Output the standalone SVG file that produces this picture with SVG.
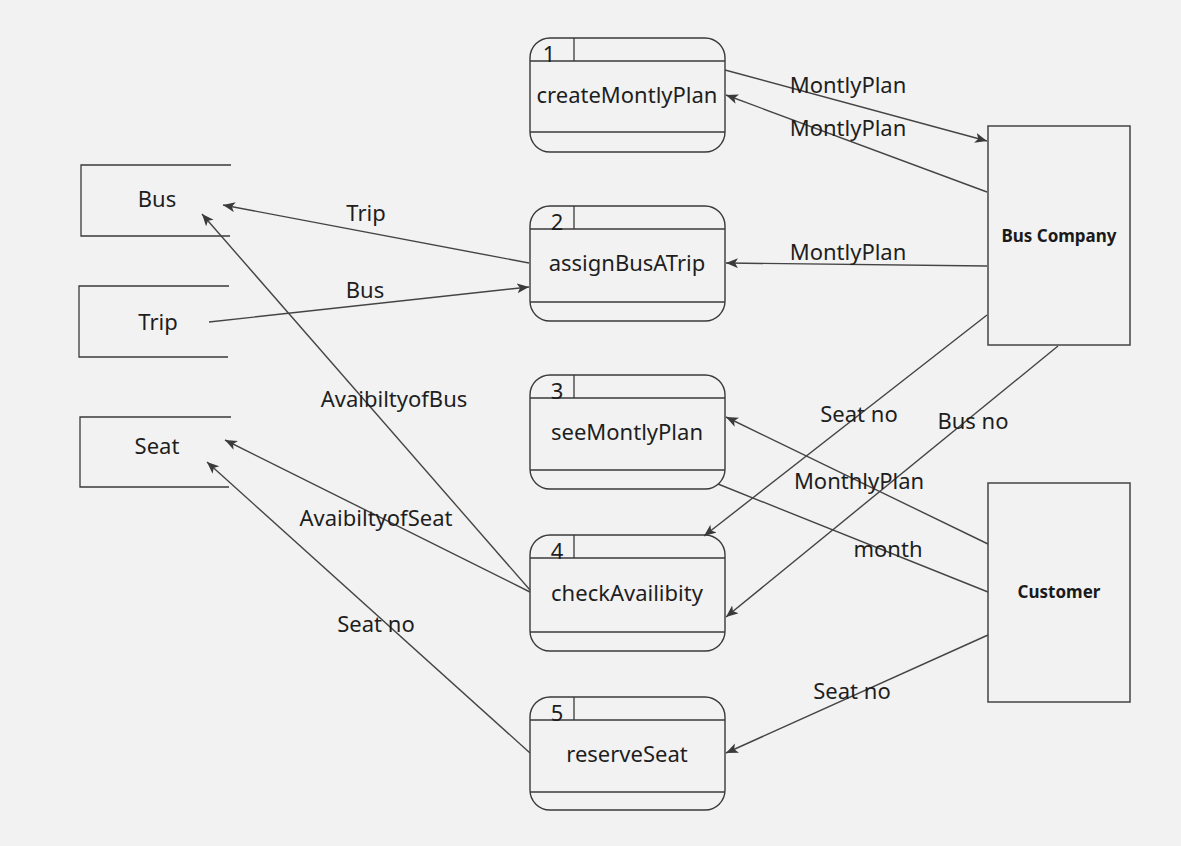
<svg xmlns="http://www.w3.org/2000/svg" width="1181" height="846" viewBox="0 0 1181 846">
<defs>
<style>
.bg{fill:#f2f2f2}
.proc{fill:none;stroke:#3a3a3a;stroke-width:1.4}
.sep{stroke:#3a3a3a;stroke-width:1.3;fill:none}
.store{fill:none;stroke:#3a3a3a;stroke-width:1.3}
.ent{fill:none;stroke:#444;stroke-width:1.5}
.t{font-family:"Noto Sans","Open Sans",sans-serif;font-size:22px;fill:#1e1e1e;text-anchor:middle}
.num{font-family:"Noto Sans","Open Sans",sans-serif;font-size:22px;fill:#1e1e1e;text-anchor:middle}
.b{font-family:"Noto Sans","Open Sans",sans-serif;font-size:17px;font-weight:bold;fill:#1a1a1a;text-anchor:middle}
.c{stroke:#444;stroke-width:1.4;fill:none;marker-end:url(#ah)}
.cn{stroke:#444;stroke-width:1.4;fill:none}
</style>
<marker id="ah" markerUnits="userSpaceOnUse" markerWidth="13" markerHeight="11" refX="12" refY="5" orient="auto">
<path d="M0,0 L12,5 L0,10 L3,5 Z" fill="#3a3a3a"/>
</marker>
</defs>
<rect class="bg" x="0" y="0" width="1181" height="846"/>

<g id="p1">
<rect class="proc" x="530" y="38" width="195" height="114" rx="20" ry="20"/>
<line class="sep" x1="530" y1="61" x2="725" y2="61"/>
<line class="sep" x1="530" y1="132" x2="725" y2="132"/>
<line class="sep" x1="574" y1="38" x2="574" y2="61"/>
<text class="num" x="549" y="62">1</text>
<text class="t" x="627" y="103">createMontlyPlan</text>
</g>
<g id="p2">
<rect class="proc" x="530" y="206" width="195" height="115" rx="20" ry="20"/>
<line class="sep" x1="530" y1="229" x2="725" y2="229"/>
<line class="sep" x1="530" y1="302" x2="725" y2="302"/>
<line class="sep" x1="574" y1="206" x2="574" y2="229"/>
<text class="num" x="557" y="230">2</text>
<text class="t" x="627" y="271">assignBusATrip</text>
</g>
<g id="p3">
<rect class="proc" x="530" y="375" width="195" height="114" rx="20" ry="20"/>
<line class="sep" x1="530" y1="398" x2="725" y2="398"/>
<line class="sep" x1="530" y1="470" x2="725" y2="470"/>
<line class="sep" x1="574" y1="375" x2="574" y2="398"/>
<text class="num" x="557" y="399">3</text>
<text class="t" x="627" y="440">seeMontlyPlan</text>
</g>
<g id="p4">
<rect class="proc" x="530" y="535" width="195" height="116" rx="20" ry="20"/>
<line class="sep" x1="530" y1="558" x2="725" y2="558"/>
<line class="sep" x1="530" y1="632" x2="725" y2="632"/>
<line class="sep" x1="574" y1="535" x2="574" y2="558"/>
<text class="num" x="557" y="559">4</text>
<text class="t" x="627" y="601">checkAvailibity</text>
</g>
<g id="p5">
<rect class="proc" x="530" y="697" width="195" height="113" rx="20" ry="20"/>
<line class="sep" x1="530" y1="720" x2="725" y2="720"/>
<line class="sep" x1="530" y1="792" x2="725" y2="792"/>
<line class="sep" x1="574" y1="697" x2="574" y2="720"/>
<text class="num" x="557" y="721">5</text>
<text class="t" x="627" y="762">reserveSeat</text>
</g>

<g id="ds-bus">
<path class="store" d="M231,165 L81,165 L81,236 L230,236"/>
<text class="t" x="157" y="207">Bus</text>
</g>
<g id="ds-trip">
<path class="store" d="M229,286 L79,286 L79,357 L228,357"/>
<text class="t" x="158" y="330">Trip</text>
</g>
<g id="ds-seat">
<path class="store" d="M231,417 L80,417 L80,487 L229,487"/>
<text class="t" x="157" y="454">Seat</text>
</g>

<g id="e-buscompany">
<rect class="ent" x="988" y="126" width="142" height="219"/>
<text class="b" x="1059" y="242">Bus Company</text>
</g>
<g id="e-customer">
<rect class="ent" x="988" y="483" width="142" height="219"/>
<text class="b" x="1059" y="598">Customer</text>
</g>

<g id="connectors">
<line class="c" x1="725" y1="70" x2="987" y2="141"/>
<line class="c" x1="987" y1="192" x2="726" y2="95"/>
<line class="c" x1="987" y1="266" x2="726" y2="263"/>
<line class="c" x1="529" y1="263" x2="223" y2="205"/>
<line class="c" x1="209" y1="322" x2="529" y2="287"/>
<line class="c" x1="530" y1="590" x2="202" y2="214"/>
<line class="c" x1="530" y1="592" x2="225" y2="440"/>
<line class="c" x1="530" y1="753" x2="207" y2="462"/>
<line class="c" x1="987" y1="315" x2="704" y2="536"/>
<line class="c" x1="1058" y1="346" x2="726" y2="617"/>
<line class="c" x1="988" y1="544" x2="726" y2="417"/>
<line class="cn" x1="718" y1="484" x2="988" y2="592"/>
<line class="c" x1="988" y1="635" x2="726" y2="753"/>

<text class="t" x="848" y="93">MontlyPlan</text>
<text class="t" x="848" y="136">MontlyPlan</text>
<text class="t" x="848" y="260">MontlyPlan</text>
<text class="t" x="366" y="221">Trip</text>
<text class="t" x="365" y="298">Bus</text>
<text class="t" x="394" y="407">AvaibiltyofBus</text>
<text class="t" x="376" y="526">AvaibiltyofSeat</text>
<text class="t" x="376" y="632">Seat no</text>
<text class="t" x="859" y="422">Seat no</text>
<text class="t" x="973" y="429">Bus no</text>
<text class="t" x="859" y="489">MonthlyPlan</text>
<text class="t" x="888" y="557">month</text>
<text class="t" x="852" y="699">Seat no</text>
</g>
</svg>
